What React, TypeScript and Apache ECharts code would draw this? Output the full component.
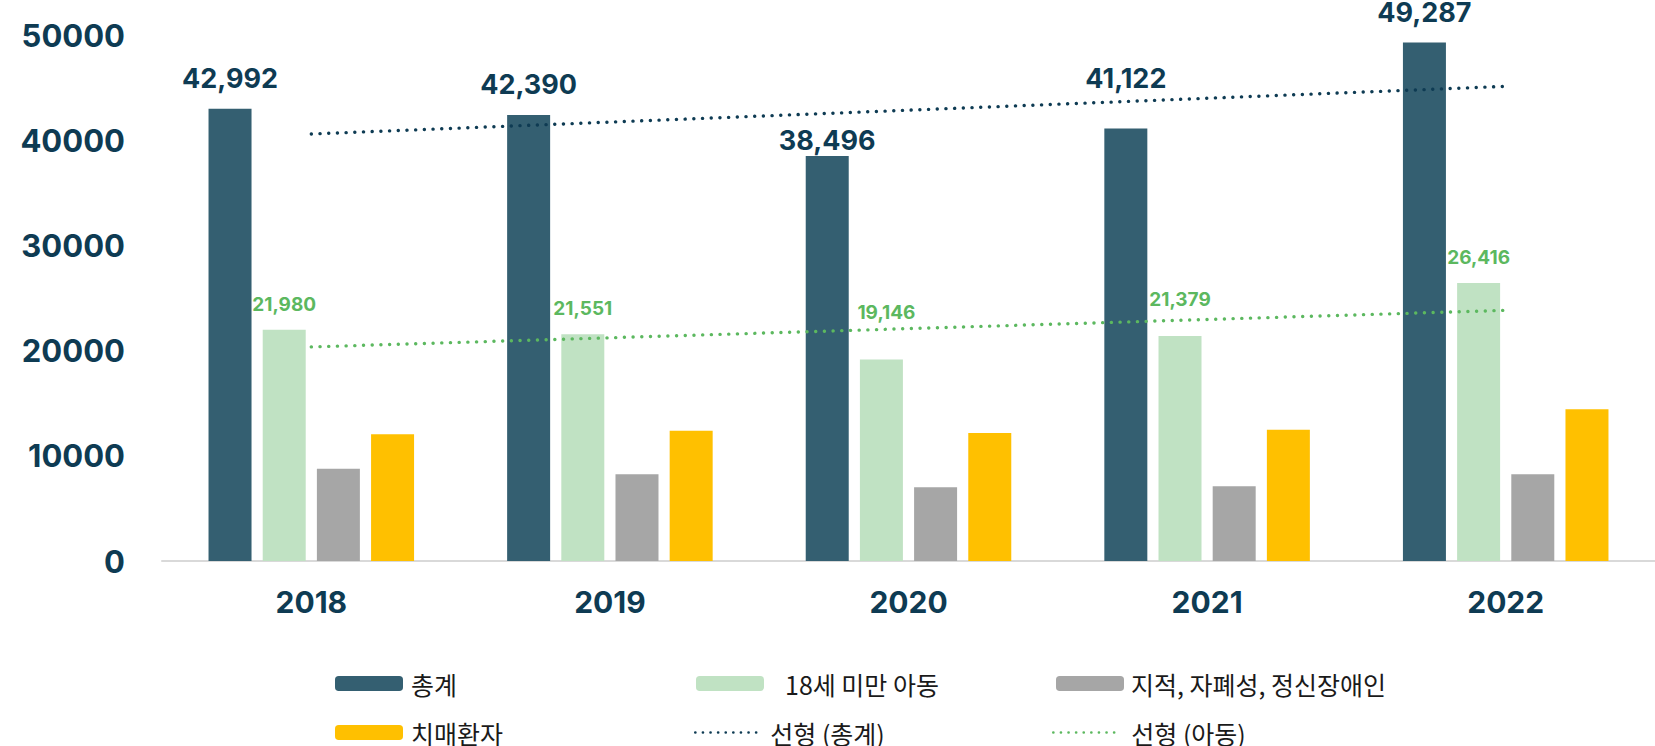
import React, { useEffect, useRef } from "react";
import * as echarts from "echarts";

// ---- data ----
const years = ["2018", "2019", "2020", "2021", "2022"];
const totalValues = [42992, 42390, 38496, 41122, 49287];
const childValues = [21980, 21551, 19146, 21379, 26416];
const disabilityValues = [8780, 8250, 7000, 7100, 8250];
const dementiaValues = [12040, 12390, 12170, 12480, 14420];
// linear trend lines, read at the first and last category
const totalTrend = [40590, null, null, null, 45120];
const childTrend = [20350, null, null, null, 23830];

const seriesNames = {
  total: "총계",
  child: "18세 미만 아동",
  disability: "지적, 자폐성, 정신장애인",
  dementia: "치매환자",
  totalTrend: "선형 (총계)",
  childTrend: "선형 (아동)",
};

// ---- label nudges (layout only) ----
const totalLabelShift = [[0, 0], [0, 0], [0, 15], [0, -19], [0, 0]];
const childLabelShift = [[0, 0], [0, 0], [5, -22], [0, -11], [0, 0]];

const NAVY = "#0E3B53";
const GREEN_TXT = "#5CB85F";
const NUM_FONT = "Inter, 'Noto Sans', sans-serif";
const KR_FONT = "'Noto Sans CJK KR', 'Noto Sans', sans-serif";

const fmt = (v: number) => v.toLocaleString("en-US");

export default function App() {
  const ref = useRef<HTMLDivElement>(null);

  useEffect(() => {
    if (!ref.current) return;
    const chart = echarts.init(ref.current, undefined, { renderer: "svg" });

    const barBase = {
      type: "bar",
      barWidth: 43,
      barGap: "26%",
    };

    const legendBase = (
      name: string,
      left: number,
      top: number,
      padLeft: number,
      lineColor?: string
    ) => {
      const l: any = {
        data: [name],
        left,
        top,
        padding: 0,
        orient: "horizontal",
        itemWidth: lineColor ? 66 : 68,
        itemHeight: 15,
        selectedMode: false,
        textStyle: {
          fontFamily: KR_FONT,
          fontSize: 25,
          lineHeight: 25,
          color: "#1A1A1A",
          padding: [0, 0, 0, padLeft],
        },
      };
      if (lineColor) {
        l.itemStyle = {
          color: "rgba(0,0,0,0)",
          borderColor: "rgba(0,0,0,0)",
          borderWidth: 0,
        };
        l.lineStyle = {
          color: lineColor,
          width: 2.6,
          type: [0.1, 7.5],
          cap: "round",
        };
      }
      return l;
    };

    const option: any = {
      animation: false,
      backgroundColor: "#ffffff",
      grid: { left: 162, right: 0, top: 35, bottom: 185, containLabel: false },
      xAxis: {
        type: "category",
        data: years,
        axisLine: { show: true, lineStyle: { color: "#D9D9D9", width: 2 } },
        axisTick: { show: false },
        axisLabel: {
          color: NAVY,
          fontFamily: NUM_FONT,
          fontWeight: "bold",
          fontSize: 30,
          margin: 26,
        },
      },
      yAxis: {
        type: "value",
        min: 0,
        max: 50000,
        interval: 10000,
        splitLine: { show: false },
        axisLine: { show: false },
        axisTick: { show: false },
        axisLabel: {
          color: NAVY,
          fontFamily: NUM_FONT,
          fontWeight: "bold",
          fontSize: 31,
          margin: 37,
          formatter: (v: number) => String(v),
        },
      },
      legend: [
        legendBase(seriesNames.total, 335, 671, 3),
        legendBase(seriesNames.child, 696, 671, 16),
        legendBase(seriesNames.disability, 1056, 671, 2),
        legendBase(seriesNames.dementia, 335, 720, 3),
        legendBase(seriesNames.totalTrend, 694, 720, 4, "#0E3B53"),
        legendBase(seriesNames.childTrend, 1052, 720, 7, "#5CB85F"),
      ],
      series: [
        {
          ...barBase,
          name: seriesNames.total,
          itemStyle: { color: "#345F71" },
          data: totalValues.map((v, i) => ({
            value: v,
            label: { offset: totalLabelShift[i] },
          })),
          label: {
            show: true,
            position: "top",
            distance: 17,
            color: NAVY,
            fontFamily: NUM_FONT,
            fontWeight: "bold",
            fontSize: 27,
            formatter: (p: any) => fmt(p.value),
          },
        },
        {
          ...barBase,
          name: seriesNames.child,
          itemStyle: { color: "#C0E2C3" },
          data: childValues.map((v, i) => ({
            value: v,
            label: { offset: childLabelShift[i] },
          })),
          label: {
            show: true,
            position: "top",
            distance: 16,
            color: GREEN_TXT,
            fontFamily: NUM_FONT,
            fontWeight: "bold",
            fontSize: 19,
            formatter: (p: any) => fmt(p.value),
          },
        },
        {
          ...barBase,
          name: seriesNames.disability,
          itemStyle: { color: "#A6A6A6" },
          data: disabilityValues,
        },
        {
          ...barBase,
          name: seriesNames.dementia,
          itemStyle: { color: "#FFC000" },
          data: dementiaValues,
        },
        {
          type: "line",
          name: seriesNames.totalTrend,
          data: totalTrend,
          connectNulls: true,
          symbol: "none",
          z: 5,
          lineStyle: { color: "#0E3B53", width: 3.4, type: [0.1, 8.6], cap: "round" },
          itemStyle: { color: "#0E3B53" },
        },
        {
          type: "line",
          name: seriesNames.childTrend,
          data: childTrend,
          connectNulls: true,
          symbol: "none",
          z: 5,
          lineStyle: { color: "#5CB85F", width: 3.4, type: [0.1, 8.6], cap: "round" },
          itemStyle: { color: "#5CB85F" },
        },
      ],
    };

    chart.setOption(option);
    return () => chart.dispose();
  }, []);

  return (
    <div
      ref={ref}
      style={{ position: "absolute", left: 0, top: 0, width: 1655, height: 746 }}
    />
  );
}
